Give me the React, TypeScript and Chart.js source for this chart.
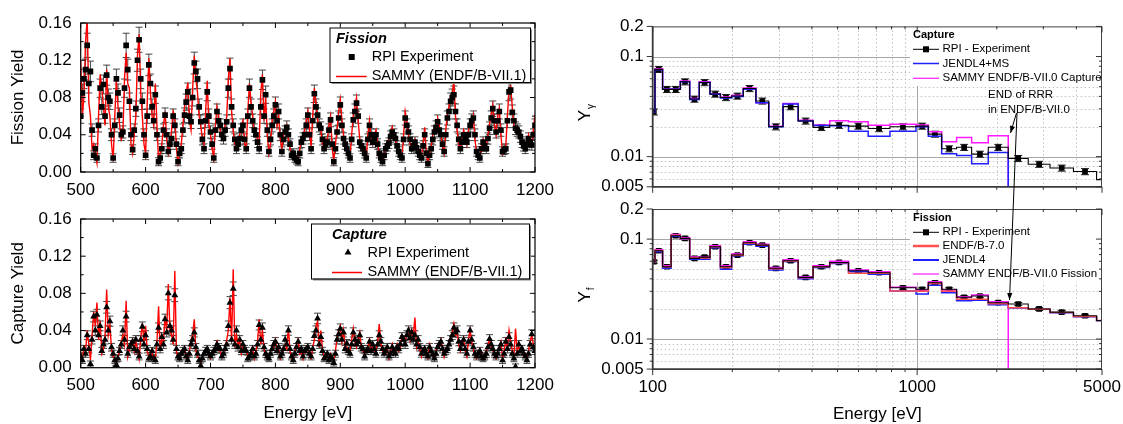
import React, { useEffect, useRef } from "react";
import { Chart, registerables } from "chart.js";
Chart.register(...registerables);

const FAMILY = '"Liberation Sans", Arial, Helvetica, sans-serif';
const font = (size: number, style = "") => `${style} ${size}px ${FAMILY}`.trim();

// ---------------- Left panels: resonance region 500-1200 eV ----------------
// values on the grid 500, 505, ... 1200 eV and on the half grid 502.5, 507.5, ... 1197.5 eV
const leftEnergyStart = 500;
const leftEnergyStep = 5;

const fissionExp = [
  0.060, 0.100, 0.136, 0.108, 0.018, 0.015, 0.090, 0.094, 0.104, 0.076,
  0.015, 0.100, 0.061, 0.043, 0.136, 0.076, 0.024, 0.068, 0.142, 0.076,
  0.018, 0.115, 0.070, 0.083, 0.011, 0.025, 0.061, 0.022, 0.036, 0.050,
  0.011, 0.025, 0.061, 0.086, 0.054, 0.117, 0.100, 0.054, 0.025, 0.086,
  0.043, 0.015, 0.065, 0.050, 0.036, 0.054, 0.111, 0.050, 0.025, 0.036,
  0.050, 0.025, 0.090, 0.055, 0.040, 0.025, 0.099, 0.083, 0.022, 0.050,
  0.072, 0.065, 0.022, 0.043, 0.040, 0.018, 0.015, 0.011, 0.032, 0.040,
  0.061, 0.025, 0.084, 0.061, 0.047, 0.025, 0.032, 0.056, 0.011, 0.043,
  0.072, 0.036, 0.025, 0.015, 0.056, 0.074, 0.032, 0.025, 0.015, 0.050,
  0.032, 0.040, 0.020, 0.011, 0.025, 0.031, 0.043, 0.036, 0.022, 0.015,
  0.058, 0.043, 0.025, 0.032, 0.022, 0.015, 0.040, 0.009, 0.025, 0.043,
  0.054, 0.040, 0.022, 0.058, 0.076, 0.083, 0.050, 0.025, 0.040, 0.032,
  0.050, 0.058, 0.022, 0.015, 0.032, 0.025, 0.047, 0.068, 0.043, 0.065,
  0.022, 0.025, 0.086, 0.064, 0.047, 0.043, 0.032, 0.025, 0.036, 0.029,
  0.050,
];
const fissionExpMid = [
  0.085, 0.110, 0.095, 0.045, 0.025, 0.050, 0.070, 0.060, 0.080, 0.040,
  0.050, 0.085, 0.040, 0.090, 0.110, 0.040, 0.045, 0.120, 0.100, 0.040,
  0.060, 0.095, 0.055, 0.040, 0.015, 0.045, 0.040, 0.030, 0.060, 0.030,
  0.020, 0.045, 0.075, 0.060, 0.080, 0.108, 0.070, 0.035, 0.055, 0.060,
  0.030, 0.045, 0.055, 0.040, 0.045, 0.090, 0.070, 0.035, 0.030, 0.045,
  0.035, 0.060, 0.070, 0.045, 0.032, 0.070, 0.060, 0.045, 0.035, 0.060,
  0.055, 0.040, 0.035, 0.048, 0.030, 0.020, 0.013, 0.020, 0.036, 0.050,
  0.040, 0.055, 0.070, 0.050, 0.035, 0.030, 0.045, 0.030, 0.025, 0.058,
  0.050, 0.030, 0.020, 0.035, 0.065, 0.060, 0.028, 0.020, 0.035, 0.040,
  0.036, 0.030, 0.015, 0.018, 0.028, 0.038, 0.040, 0.028, 0.018, 0.035,
  0.050, 0.035, 0.028, 0.026, 0.018, 0.028, 0.020, 0.018, 0.035, 0.048,
  0.045, 0.030, 0.040, 0.065, 0.080, 0.065, 0.035, 0.032, 0.036, 0.040,
  0.055, 0.040, 0.018, 0.025, 0.028, 0.036, 0.058, 0.055, 0.055, 0.045,
  0.024, 0.055, 0.088, 0.055, 0.045, 0.038, 0.028, 0.030, 0.032, 0.040,
];

const fissionSammy = [
  0.120, 0.080, 0.165, 0.060, 0.030, 0.010, 0.105, 0.070, 0.110, 0.060,
  0.012, 0.098, 0.050, 0.040, 0.128, 0.090, 0.020, 0.060, 0.148, 0.060,
  0.020, 0.122, 0.060, 0.095, 0.012, 0.030, 0.065, 0.020, 0.045, 0.060,
  0.010, 0.030, 0.070, 0.096, 0.045, 0.125, 0.085, 0.050, 0.030, 0.098,
  0.040, 0.015, 0.070, 0.045, 0.040, 0.060, 0.122, 0.045, 0.028, 0.040,
  0.055, 0.025, 0.095, 0.060, 0.045, 0.030, 0.105, 0.080, 0.020, 0.055,
  0.075, 0.060, 0.025, 0.045, 0.035, 0.020, 0.012, 0.015, 0.035, 0.045,
  0.065, 0.028, 0.090, 0.055, 0.045, 0.028, 0.035, 0.060, 0.012, 0.045,
  0.078, 0.040, 0.028, 0.016, 0.060, 0.080, 0.035, 0.028, 0.016, 0.055,
  0.030, 0.045, 0.018, 0.012, 0.028, 0.035, 0.048, 0.038, 0.020, 0.015,
  0.065, 0.040, 0.028, 0.035, 0.020, 0.016, 0.048, 0.010, 0.028, 0.048,
  0.058, 0.040, 0.020, 0.062, 0.080, 0.098, 0.045, 0.025, 0.045, 0.030,
  0.055, 0.060, 0.020, 0.016, 0.035, 0.028, 0.052, 0.072, 0.040, 0.068,
  0.020, 0.028, 0.090, 0.070, 0.048, 0.040, 0.030, 0.025, 0.040, 0.028,
  0.062,
];
const fissionSammyMid = [
  0.060, 0.140, 0.075, 0.025, 0.020, 0.060, 0.090, 0.050, 0.070, 0.030,
  0.060, 0.070, 0.035, 0.100, 0.095, 0.030, 0.040, 0.125, 0.085, 0.030,
  0.075, 0.085, 0.050, 0.050, 0.020, 0.050, 0.035, 0.028, 0.065, 0.025,
  0.020, 0.050, 0.085, 0.055, 0.090, 0.100, 0.060, 0.035, 0.065, 0.050,
  0.025, 0.050, 0.060, 0.035, 0.050, 0.100, 0.065, 0.030, 0.035, 0.050,
  0.030, 0.065, 0.075, 0.040, 0.035, 0.085, 0.055, 0.040, 0.030, 0.065,
  0.050, 0.035, 0.040, 0.050, 0.025, 0.018, 0.012, 0.025, 0.040, 0.055,
  0.045, 0.060, 0.075, 0.048, 0.030, 0.035, 0.050, 0.025, 0.030, 0.065,
  0.055, 0.025, 0.022, 0.040, 0.070, 0.055, 0.030, 0.022, 0.040, 0.035,
  0.040, 0.032, 0.012, 0.020, 0.032, 0.042, 0.036, 0.025, 0.020, 0.040,
  0.055, 0.030, 0.032, 0.024, 0.020, 0.030, 0.022, 0.020, 0.040, 0.045,
  0.050, 0.028, 0.045, 0.070, 0.085, 0.060, 0.030, 0.035, 0.040, 0.045,
  0.050, 0.035, 0.020, 0.028, 0.030, 0.040, 0.062, 0.050, 0.060, 0.040,
  0.025, 0.060, 0.092, 0.050, 0.042, 0.035, 0.030, 0.034, 0.030, 0.045,
];

const captureExp = [
  0.012, 0.020, 0.035, 0.004, 0.055, 0.057, 0.045, 0.025, 0.065, 0.050,
  0.015, 0.003, 0.018, 0.040, 0.055, 0.022, 0.028, 0.030, 0.012, 0.044,
  0.035, 0.010, 0.018, 0.008, 0.043, 0.033, 0.052, 0.080, 0.040, 0.078,
  0.012, 0.015, 0.020, 0.008, 0.025, 0.038, 0.015, 0.002, 0.015, 0.020,
  0.012, 0.018, 0.025, 0.020, 0.015, 0.025, 0.070, 0.085, 0.040, 0.030,
  0.025, 0.018, 0.012, 0.020, 0.015, 0.046, 0.043, 0.015, 0.010, 0.020,
  0.028, 0.022, 0.015, 0.030, 0.040, 0.012, 0.015, 0.028, 0.020, 0.018,
  0.022, 0.012, 0.034, 0.053, 0.033, 0.010, 0.015, 0.012, 0.005, 0.030,
  0.042, 0.038, 0.026, 0.015, 0.038, 0.025, 0.035, 0.020, 0.018, 0.028,
  0.025, 0.015, 0.035, 0.020, 0.018, 0.012, 0.022, 0.015, 0.020, 0.033,
  0.025, 0.040, 0.038, 0.035, 0.030, 0.015, 0.020, 0.012, 0.018, 0.010,
  0.022, 0.028, 0.015, 0.020, 0.030, 0.043, 0.040, 0.020, 0.030, 0.015,
  0.040, 0.022, 0.012, 0.018, 0.010, 0.015, 0.031, 0.020, 0.012, 0.020,
  0.008, 0.028, 0.033, 0.015, 0.001, 0.025, 0.020, 0.012, 0.015, 0.036,
  0.018,
];
const captureExpMid = [
  0.008, 0.015, 0.020, 0.030, 0.040, 0.035, 0.018, 0.030, 0.040, 0.022,
  0.008, 0.010, 0.025, 0.030, 0.015, 0.025, 0.020, 0.018, 0.030, 0.025,
  0.020, 0.012, 0.010, 0.025, 0.020, 0.025, 0.038, 0.045, 0.030, 0.020,
  0.010, 0.018, 0.012, 0.015, 0.030, 0.022, 0.008, 0.010, 0.018, 0.015,
  0.015, 0.020, 0.022, 0.012, 0.020, 0.045, 0.030, 0.025, 0.022, 0.018,
  0.020, 0.010, 0.015, 0.012, 0.025, 0.030, 0.022, 0.012, 0.015, 0.025,
  0.018, 0.012, 0.020, 0.025, 0.020, 0.008, 0.022, 0.018, 0.012, 0.020,
  0.015, 0.020, 0.040, 0.025, 0.018, 0.012, 0.008, 0.010, 0.015, 0.036,
  0.030, 0.020, 0.018, 0.025, 0.030, 0.028, 0.022, 0.012, 0.020, 0.018,
  0.020, 0.025, 0.028, 0.015, 0.022, 0.015, 0.018, 0.022, 0.025, 0.030,
  0.035, 0.032, 0.030, 0.025, 0.022, 0.018, 0.015, 0.022, 0.014, 0.015,
  0.025, 0.020, 0.018, 0.025, 0.035, 0.038, 0.028, 0.025, 0.020, 0.028,
  0.030, 0.015, 0.015, 0.012, 0.012, 0.022, 0.025, 0.015, 0.015, 0.025,
  0.015, 0.020, 0.025, 0.010, 0.015, 0.018, 0.015, 0.008, 0.025, 0.022,
];

const captureSammy = [
  0.015, 0.022, 0.040, 0.008, 0.060, 0.070, 0.050, 0.020, 0.084, 0.045,
  0.012, 0.006, 0.020, 0.035, 0.072, 0.020, 0.030, 0.028, 0.010, 0.048,
  0.045, 0.012, 0.015, 0.010, 0.066, 0.030, 0.055, 0.090, 0.035, 0.104,
  0.010, 0.018, 0.022, 0.010, 0.030, 0.052, 0.012, 0.005, 0.018, 0.022,
  0.010, 0.020, 0.028, 0.018, 0.015, 0.030, 0.075, 0.106, 0.035, 0.028,
  0.022, 0.020, 0.010, 0.022, 0.018, 0.052, 0.040, 0.012, 0.012, 0.022,
  0.030, 0.020, 0.015, 0.025, 0.043, 0.010, 0.018, 0.030, 0.018, 0.020,
  0.020, 0.010, 0.030, 0.050, 0.040, 0.012, 0.012, 0.015, 0.008, 0.032,
  0.045, 0.040, 0.022, 0.018, 0.042, 0.022, 0.038, 0.018, 0.020, 0.030,
  0.022, 0.018, 0.047, 0.018, 0.020, 0.010, 0.025, 0.018, 0.018, 0.035,
  0.028, 0.042, 0.040, 0.054, 0.028, 0.012, 0.022, 0.010, 0.020, 0.012,
  0.025, 0.030, 0.012, 0.022, 0.032, 0.047, 0.038, 0.018, 0.032, 0.012,
  0.040, 0.020, 0.010, 0.020, 0.012, 0.018, 0.030, 0.022, 0.010, 0.022,
  0.010, 0.030, 0.040, 0.018, 0.042, 0.022, 0.018, 0.015, 0.018, 0.035,
  0.020,
];
const captureSammyMid = [
  0.010, 0.018, 0.025, 0.035, 0.045, 0.030, 0.015, 0.035, 0.035, 0.020,
  0.010, 0.012, 0.028, 0.025, 0.012, 0.028, 0.018, 0.020, 0.032, 0.028,
  0.018, 0.010, 0.012, 0.028, 0.018, 0.028, 0.040, 0.040, 0.025, 0.018,
  0.012, 0.020, 0.010, 0.018, 0.035, 0.018, 0.010, 0.012, 0.020, 0.012,
  0.018, 0.022, 0.020, 0.012, 0.022, 0.040, 0.028, 0.022, 0.025, 0.015,
  0.018, 0.012, 0.018, 0.010, 0.028, 0.025, 0.020, 0.010, 0.018, 0.022,
  0.020, 0.010, 0.022, 0.020, 0.018, 0.010, 0.025, 0.015, 0.010, 0.022,
  0.012, 0.022, 0.045, 0.022, 0.020, 0.010, 0.010, 0.012, 0.018, 0.040,
  0.028, 0.022, 0.020, 0.030, 0.028, 0.030, 0.020, 0.015, 0.022, 0.020,
  0.018, 0.028, 0.025, 0.018, 0.020, 0.018, 0.015, 0.025, 0.022, 0.032,
  0.038, 0.030, 0.035, 0.022, 0.020, 0.020, 0.012, 0.025, 0.012, 0.018,
  0.022, 0.022, 0.020, 0.028, 0.038, 0.035, 0.025, 0.028, 0.018, 0.030,
  0.028, 0.012, 0.018, 0.010, 0.015, 0.025, 0.022, 0.012, 0.018, 0.028,
  0.018, 0.022, 0.028, 0.012, 0.018, 0.020, 0.012, 0.010, 0.028, 0.025,
];

// uncertainty model of the measured yields (absolute floor + relative part)
const fissionErrAbs = 0.0035;
const fissionErrRel = 0.07;
const captureErrAbs = 0.003;
const captureErrRel = 0.05;

const leftXMin = 500;
const leftXMax = 1200;
const leftYMin = 0;
const leftYMax = 0.16;
const leftXTicks = [500, 600, 700, 800, 900, 1000, 1100, 1200];
const leftXMinor = [550, 650, 750, 850, 950, 1050, 1150];
const leftYTicks = [0, 0.04, 0.08, 0.12, 0.16];
const leftYTickLabels = ["0.00", "0.04", "0.08", "0.12", "0.16"];
const leftYMinor = [0.02, 0.06, 0.1, 0.14];

// ---------------- Right panels: averaged yields 100-5000 eV ----------------
const binEdges = [
  100, 102, 109, 117.4, 127.2, 138, 150, 164.7, 180.3, 198.8, 220, 245.6, 274.6, 311, 355, 404,
  467, 550, 653, 789, 990, 1102, 1238, 1410, 1607, 1857, 2210, 2630, 3180, 3900, 4770, 5100,
];

const capExp = [
  0.028, 0.0745, 0.047, 0.047, 0.056, 0.0376, 0.055, 0.0422, 0.039, 0.0403, 0.048, 0.036, 0.0199,
  0.0316, 0.0227, 0.0196, 0.0206, 0.0202, 0.0191, 0.0199, 0.0202, 0.0168, 0.012, 0.0124, 0.0106,
  0.0124, 0.0096, 0.0084, 0.0077, 0.0071, 0.0059,
];
const capJendl = [
  0.028, 0.074, 0.047, 0.047, 0.056, 0.0372, 0.055, 0.042, 0.0385, 0.04, 0.047, 0.0345, 0.0199,
  0.0335, 0.0227, 0.0205, 0.0204, 0.0179, 0.016, 0.0179, 0.0199, 0.016, 0.0107, 0.0103, 0.0085,
  0.011,
];
const capSammy = [
  0.028, 0.0755, 0.0475, 0.0475, 0.057, 0.038, 0.056, 0.0425, 0.0395, 0.041, 0.0485, 0.0345,
  0.0201, 0.0339, 0.0231, 0.0207, 0.0229, 0.0223, 0.0206, 0.0211, 0.0207, 0.0177, 0.0141, 0.0155,
  0.0138, 0.0162,
];

const fisExp = [
  0.0593, 0.0764, 0.0529, 0.108, 0.1016, 0.0641, 0.066, 0.0838, 0.0529, 0.0692, 0.0918, 0.0871,
  0.051, 0.0607, 0.0414, 0.0529, 0.0584, 0.0482, 0.046, 0.0326, 0.0315, 0.0366, 0.0315, 0.0262,
  0.0269, 0.0231, 0.0224, 0.02, 0.0186, 0.0171, 0.0153,
];
const fisEndf = [
  0.0593, 0.077, 0.053, 0.109, 0.101, 0.0645, 0.0645, 0.084, 0.052, 0.069, 0.091, 0.087, 0.0505,
  0.0605, 0.041, 0.053, 0.058, 0.0454, 0.0455, 0.0302, 0.03, 0.036, 0.03, 0.025, 0.025, 0.0225,
  0.0205, 0.0198, 0.0184, 0.0168, 0.0153,
];
const fisJendl = [
  0.0593, 0.0745, 0.051, 0.107, 0.0995, 0.063, 0.063, 0.082, 0.05, 0.068, 0.089, 0.085, 0.049,
  0.0595, 0.04, 0.052, 0.057, 0.047, 0.0445, 0.0302, 0.0282, 0.0345, 0.029, 0.0242, 0.0245, 0.022,
  0.0204, 0.0198, 0.0183, 0.0167, 0.0152,
];
const fisSammy = [
  0.0593, 0.078, 0.054, 0.111, 0.103, 0.066, 0.066, 0.086, 0.054, 0.071, 0.094, 0.089, 0.052,
  0.062, 0.042, 0.054, 0.06, 0.049, 0.047, 0.033, 0.031, 0.0375, 0.031, 0.0265, 0.0275, 0.0236,
];

const capErrRel = 0.07;
const fisErrRel = 0.035;
const belowAxis = 0.001; // evaluations end (drop) at the end of the resolved range

const rightXMin = 100;
const rightXMax = 5000;
const rightYMin = 0.005;
const rightYMax = 0.2;
const rightXTicks = [100, 1000, 5000];
const rightXTickLabels = ["100", "1000", "5000"];
const rightXMinor = [200, 300, 400, 500, 600, 700, 800, 900, 2000, 3000, 4000];
const rightXMajorGrid = [1000];
const rightYTicks = [0.005, 0.01, 0.1, 0.2];
const rightYTickLabels = ["0.005", "0.01", "0.1", "0.2"];
const rightYMinor = [0.006, 0.007, 0.008, 0.009, 0.02, 0.03, 0.04, 0.05, 0.06, 0.07, 0.08, 0.09];
const rightYMajorGrid = [0.01, 0.1];

const BLUE = "#2020ff";
const MAGENTA = "#ff1aff";
const RED_ENDF = "#ff5050";

// ---------------- helpers ----------------
function mergeGrid(base: number[], mid: number[]) {
  const out: { x: number; y: number }[] = [];
  base.forEach((v, i) => {
    out.push({ x: leftEnergyStart + i * leftEnergyStep, y: v });
    if (i < mid.length) out.push({ x: leftEnergyStart + (i + 0.5) * leftEnergyStep, y: mid[i] });
  });
  return out;
}

function stepData(values: number[], drop?: boolean) {
  const pts = values.map((v, i) => ({ x: binEdges[i], y: v }));
  pts.push({ x: binEdges[values.length], y: values[values.length - 1] });
  if (drop) pts.push({ x: binEdges[values.length], y: belowAxis });
  return pts;
}

function binPoints(values: number[]) {
  const out: { x: number; y: number }[] = [];
  values.forEach((v, i) => {
    if (binEdges[i + 1] <= rightXMax) out.push({ x: Math.sqrt(binEdges[i] * binEdges[i + 1]), y: v });
  });
  return out;
}

function clipArea(ctx: CanvasRenderingContext2D, a: any) {
  ctx.beginPath();
  ctx.rect(a.left, a.top, a.right - a.left, a.bottom - a.top);
  ctx.clip();
}

// ---------------- left deco plugin ----------------
type LeftCfg = {
  offY: number;
  pts: { x: number; y: number }[];
  errAbs: number;
  errRel: number;
  yTitle: string;
  xTitle: boolean;
  marker: "rect" | "triangle";
  box: [number, number, number, number];
  legendTitle: string;
  titleX: number;
  titleY: number;
  markerX: number;
  row1Y: number;
  row2Y: number;
  lineX1: number;
  lineX2: number;
  textX: number;
};

function leftDeco(cfg: LeftCfg) {
  return {
    id: "leftDeco",
    beforeDatasetsDraw(chart: any) {
      const { ctx, chartArea: a, scales } = chart;
      const xs = scales.x;
      const ys = scales.y;
      ctx.save();
      clipArea(ctx, a);
      ctx.strokeStyle = "#303030";
      ctx.lineWidth = 0.9;
      ctx.beginPath();
      cfg.pts.forEach((p) => {
        const err = cfg.errAbs + cfg.errRel * p.y;
        const px = xs.getPixelForValue(p.x);
        const lo = ys.getPixelForValue(p.y - err);
        const hi = ys.getPixelForValue(p.y + err);
        ctx.moveTo(px, lo);
        ctx.lineTo(px, hi);
        ctx.moveTo(px - 3.5, lo);
        ctx.lineTo(px + 3.5, lo);
        ctx.moveTo(px - 3.5, hi);
        ctx.lineTo(px + 3.5, hi);
      });
      ctx.stroke();
      ctx.restore();
    },
    afterDraw(chart: any) {
      const { ctx, chartArea: a, scales } = chart;
      const xs = scales.x;
      const ys = scales.y;
      const oy = cfg.offY;
      ctx.save();
      ctx.strokeStyle = "#000";
      ctx.lineWidth = 1.2;
      ctx.strokeRect(a.left, a.top, a.right - a.left, a.bottom - a.top);
      ctx.lineWidth = 1;
      ctx.beginPath();
      const xt = (v: number, len: number) => {
        const px = xs.getPixelForValue(v);
        ctx.moveTo(px, a.bottom);
        ctx.lineTo(px, a.bottom - len);
        ctx.moveTo(px, a.top);
        ctx.lineTo(px, a.top + len);
      };
      const yt = (v: number, len: number) => {
        const py = ys.getPixelForValue(v);
        ctx.moveTo(a.left, py);
        ctx.lineTo(a.left + len, py);
        ctx.moveTo(a.right, py);
        ctx.lineTo(a.right - len, py);
      };
      leftXTicks.forEach((v) => xt(v, 5));
      leftXMinor.forEach((v) => xt(v, 3));
      leftYTicks.forEach((v) => yt(v, 5));
      leftYMinor.forEach((v) => yt(v, 3));
      ctx.stroke();

      ctx.fillStyle = "#000";
      ctx.font = font(17);
      ctx.textBaseline = "middle";
      ctx.textAlign = "center";
      leftXTicks.forEach((v) => ctx.fillText(String(v), xs.getPixelForValue(v), a.bottom + 18));
      ctx.textAlign = "right";
      leftYTicks.forEach((v, i) => ctx.fillText(leftYTickLabels[i], a.left - 9, ys.getPixelForValue(v)));

      ctx.save();
      ctx.translate(18, (a.top + a.bottom) / 2);
      ctx.rotate(-Math.PI / 2);
      ctx.textAlign = "center";
      ctx.fillText(cfg.yTitle, 0, 0);
      ctx.restore();
      if (cfg.xTitle) {
        ctx.textAlign = "center";
        ctx.fillText("Energy [eV]", (a.left + a.right) / 2, a.bottom + 46);
      }

      const [bx1, by1, bx2, by2] = cfg.box;
      ctx.fillStyle = "#8a8a8a";
      ctx.fillRect(bx1 + 2, by1 - oy + 2, bx2 - bx1, by2 - by1);
      ctx.fillStyle = "#fff";
      ctx.fillRect(bx1, by1 - oy, bx2 - bx1, by2 - by1);
      ctx.strokeStyle = "#000";
      ctx.lineWidth = 1;
      ctx.strokeRect(bx1 + 0.5, by1 - oy + 0.5, bx2 - bx1, by2 - by1);

      ctx.fillStyle = "#000";
      ctx.textAlign = "left";
      ctx.font = font(14.5, "italic bold");
      ctx.fillText(cfg.legendTitle, cfg.titleX, cfg.titleY - oy);
      ctx.font = font(14.5);
      const mx = cfg.markerX;
      const my = cfg.row1Y - oy;
      ctx.beginPath();
      if (cfg.marker === "rect") {
        ctx.rect(mx - 3, my - 3, 6, 6);
      } else {
        const r = 4;
        ctx.moveTo(mx, my - r);
        ctx.lineTo(mx + r * 0.866, my + r * 0.5);
        ctx.lineTo(mx - r * 0.866, my + r * 0.5);
        ctx.closePath();
      }
      ctx.fill();
      ctx.fillText("RPI Experiment", cfg.textX, my);
      ctx.strokeStyle = "#ff0000";
      ctx.lineWidth = 1.5;
      ctx.beginPath();
      const ly = Math.round(cfg.row2Y - oy) + 0.5;
      ctx.moveTo(cfg.lineX1, ly);
      ctx.lineTo(cfg.lineX2, ly);
      ctx.stroke();
      ctx.fillText("SAMMY (ENDF/B-VII.1)", cfg.textX, cfg.row2Y - oy);
      ctx.restore();
    },
  };
}

function leftConfig(expPts: any[], samPts: any[], marker: "rect" | "triangle", padding: any, deco: any) {
  return {
    type: "line" as const,
    data: {
      datasets: [
        {
          data: expPts,
          showLine: false,
          pointStyle: marker,
          pointRadius: 4,
          pointBackgroundColor: "#000",
          pointBorderColor: "#000",
          pointBorderWidth: 0,
          borderColor: "#000",
        },
        {
          data: samPts,
          borderColor: "#ff0000",
          borderWidth: 1.4,
          pointRadius: 0,
          tension: 0,
          fill: false,
        },
      ],
    },
    options: {
      animation: false as const,
      responsive: false,
      events: [],
      layout: { padding },
      plugins: { legend: { display: false }, tooltip: { enabled: false } },
      scales: {
        x: { type: "linear" as const, min: leftXMin, max: leftXMax, display: false },
        y: { type: "linear" as const, min: leftYMin, max: leftYMax, display: false },
      },
    },
    plugins: [deco],
  };
}

// ---------------- right deco plugin ----------------
type Row = { label: string; color: string; width: number; marker?: boolean };
type RightCfg = {
  offX: number;
  offY: number;
  sub: string;
  legendTitle: string;
  titleY: number;
  rows: Row[];
  rowYs: number[];
  legendBottom: number;
  xLabels: boolean;
  xTitle: boolean;
  annotation: boolean;
  pointsIndex: number;
  exp: number[];
  errRel: number;
};

function rightDeco(cfg: RightCfg) {
  const legendX = 913;
  const sampleEnd = 939;
  const textX = 942.5;
  return {
    id: "rightDeco",
    beforeDatasetsDraw(chart: any) {
      const { ctx, chartArea: a, scales } = chart;
      const xs = scales.x;
      const ys = scales.y;
      ctx.save();
      clipArea(ctx, a);
      ctx.lineWidth = 1;
      ctx.strokeStyle = "#c2c2c2";
      ctx.setLineDash([1.5, 2.5]);
      ctx.beginPath();
      rightYMinor.forEach((v) => {
        const py = Math.round(ys.getPixelForValue(v)) + 0.5;
        ctx.moveTo(a.left, py);
        ctx.lineTo(a.right, py);
      });
      rightXMinor.forEach((v) => {
        const px = Math.round(xs.getPixelForValue(v)) + 0.5;
        ctx.moveTo(px, a.top);
        ctx.lineTo(px, a.bottom);
      });
      ctx.stroke();
      ctx.setLineDash([]);
      ctx.strokeStyle = "#a6a6a6";
      ctx.beginPath();
      rightYMajorGrid.forEach((v) => {
        const py = Math.round(ys.getPixelForValue(v)) + 0.5;
        ctx.moveTo(a.left, py);
        ctx.lineTo(a.right, py);
      });
      rightXMajorGrid.forEach((v) => {
        const px = Math.round(xs.getPixelForValue(v)) + 0.5;
        ctx.moveTo(px, a.top);
        ctx.lineTo(px, a.bottom);
      });
      ctx.stroke();
      ctx.fillStyle = "#fff";
      const lx = legendX - 3 - cfg.offX;
      ctx.fillRect(lx, a.top + 1, a.right - lx - 1, cfg.legendBottom - cfg.offY - a.top);
      ctx.restore();
    },
    beforeDatasetDraw(chart: any, args: any) {
      if (args.index !== cfg.pointsIndex) return;
      const { ctx, chartArea: a, scales } = chart;
      const xs = scales.x;
      const ys = scales.y;
      ctx.save();
      clipArea(ctx, a);
      ctx.strokeStyle = "#222";
      ctx.lineWidth = 1;
      ctx.beginPath();
      cfg.exp.forEach((v, i) => {
        if (binEdges[i + 1] > rightXMax) return;
        const px = xs.getPixelForValue(Math.sqrt(binEdges[i] * binEdges[i + 1]));
        const lo = ys.getPixelForValue(v * (1 - cfg.errRel));
        const hi = ys.getPixelForValue(v * (1 + cfg.errRel));
        ctx.moveTo(px, lo);
        ctx.lineTo(px, hi);
        ctx.moveTo(px - 4, lo);
        ctx.lineTo(px + 4, lo);
        ctx.moveTo(px - 4, hi);
        ctx.lineTo(px + 4, hi);
      });
      ctx.stroke();
      ctx.restore();
    },
    afterDraw(chart: any) {
      const { ctx, chartArea: a, scales } = chart;
      const xs = scales.x;
      const ys = scales.y;
      const ox = cfg.offX;
      const oy = cfg.offY;
      ctx.save();
      ctx.strokeStyle = "#444";
      ctx.lineWidth = 1;
      ctx.beginPath();
      ctx.moveTo(a.left, a.top + 0.5);
      ctx.lineTo(a.right, a.top + 0.5);
      ctx.moveTo(a.right - 0.5, a.top);
      ctx.lineTo(a.right - 0.5, a.bottom);
      ctx.stroke();
      ctx.strokeStyle = "#3a3a3a";
      ctx.lineWidth = 1.8;
      ctx.beginPath();
      ctx.moveTo(a.left, a.top);
      ctx.lineTo(a.left, a.bottom);
      ctx.lineTo(a.right, a.bottom);
      ctx.stroke();
      ctx.lineWidth = 1;
      ctx.strokeStyle = "#333";
      ctx.beginPath();
      const xt = (v: number, len: number) => {
        const px = xs.getPixelForValue(v);
        ctx.moveTo(px, a.bottom);
        ctx.lineTo(px, a.bottom + len);
        ctx.moveTo(px, a.top);
        ctx.lineTo(px, a.top + len);
      };
      const yt = (v: number, len: number) => {
        const py = ys.getPixelForValue(v);
        ctx.moveTo(a.left, py);
        ctx.lineTo(a.left - len, py);
        ctx.moveTo(a.right, py);
        ctx.lineTo(a.right - len, py);
      };
      rightXTicks.forEach((v) => xt(v, 6));
      rightXMinor.forEach((v) => xt(v, 3));
      rightYTicks.forEach((v) => yt(v, 6));
      rightYMinor.forEach((v) => yt(v, 3));
      ctx.stroke();

      ctx.fillStyle = "#000";
      ctx.font = font(17);
      ctx.textBaseline = "middle";
      if (cfg.xLabels) {
        ctx.textAlign = "center";
        rightXTicks.forEach((v, i) => ctx.fillText(rightXTickLabels[i], xs.getPixelForValue(v), a.bottom + 18));
      }
      ctx.textAlign = "right";
      rightYTicks.forEach((v, i) => ctx.fillText(rightYTickLabels[i], a.left - 9, ys.getPixelForValue(v)));

      ctx.save();
      ctx.translate(a.left - 67, (a.top + a.bottom) / 2 + 6);
      ctx.rotate(-Math.PI / 2);
      ctx.textAlign = "left";
      ctx.font = font(17);
      const wY = ctx.measureText("Y").width;
      ctx.font = font(10);
      const wS = ctx.measureText(cfg.sub).width;
      const start = -(wY + wS + 1) / 2;
      ctx.font = font(17);
      ctx.fillText("Y", start, 0);
      ctx.font = font(10);
      ctx.fillText(cfg.sub, start + wY + 1, 6);
      ctx.restore();

      if (cfg.xTitle) {
        ctx.font = font(17);
        ctx.textAlign = "center";
        ctx.fillText("Energy [eV]", (a.left + a.right) / 2, a.bottom + 45);
      }

      ctx.textAlign = "left";
      ctx.font = font(11, "bold");
      ctx.fillText(cfg.legendTitle, legendX - ox, cfg.titleY - oy);
      ctx.font = font(11.5);
      cfg.rows.forEach((row, i) => {
        const y = cfg.rowYs[i] - oy;
        ctx.strokeStyle = row.color;
        ctx.lineWidth = row.width;
        ctx.beginPath();
        ctx.moveTo(legendX - ox, y);
        ctx.lineTo(sampleEnd - ox, y);
        ctx.stroke();
        if (row.marker) {
          ctx.fillStyle = "#000";
          ctx.fillRect((legendX + sampleEnd) / 2 - ox - 3, y - 3, 6, 6);
        }
        ctx.fillStyle = "#000";
        ctx.fillText(row.label, textX - ox, y);
      });

      if (cfg.annotation) {
        ctx.font = font(11.5);
        ctx.fillText("END of RRR", 988 - ox, 95 - oy);
        ctx.fillText("in ENDF/B-VII.0", 988 - ox, 109.5 - oy);
      }
      ctx.restore();
    },
  };
}

function rightConfig(lines: { data: any[]; color: string; width: number }[], points: any[], padding: any, deco: any) {
  return {
    type: "line" as const,
    data: {
      datasets: [
        ...lines.map((l) => ({
          data: l.data,
          borderColor: l.color,
          borderWidth: l.width,
          stepped: "before" as const,
          pointRadius: 0,
          fill: false,
        })),
        {
          data: points,
          showLine: false,
          pointStyle: "rect" as const,
          pointRadius: 4,
          pointBackgroundColor: "#000",
          pointBorderColor: "#000",
          pointBorderWidth: 0,
          borderColor: "#000",
        },
      ],
    },
    options: {
      animation: false as const,
      responsive: false,
      events: [],
      layout: { padding },
      plugins: { legend: { display: false }, tooltip: { enabled: false } },
      scales: {
        x: { type: "logarithmic" as const, min: rightXMin, max: rightXMax, display: false },
        y: { type: "logarithmic" as const, min: rightYMin, max: rightYMax, display: false },
      },
    },
    plugins: [deco],
  };
}

function arrowHead(x1: number, y1: number, x2: number, y2: number, len = 7, half = 2.6) {
  const dx = x2 - x1;
  const dy = y2 - y1;
  const L = Math.hypot(dx, dy);
  const ux = dx / L;
  const uy = dy / L;
  const bx = x2 - ux * len;
  const by = y2 - uy * len;
  return `${x2},${y2} ${bx - uy * half},${by + ux * half} ${bx + uy * half},${by - ux * half}`;
}

// annotation arrows (page coordinates of the "END of RRR" pointer)
const arrowShort = { x1: 1016.5, y1: 113, x2: 1010.5, y2: 133 };
const arrowLong = { x1: 1017, y1: 113, x2: 1009.5, y2: 300 };

export default function App() {
  const c1 = useRef<HTMLCanvasElement>(null);
  const c2 = useRef<HTMLCanvasElement>(null);
  const c3 = useRef<HTMLCanvasElement>(null);
  const c4 = useRef<HTMLCanvasElement>(null);

  useEffect(() => {
    const fisPts = mergeGrid(fissionExp, fissionExpMid);
    const fisLine = mergeGrid(fissionSammy, fissionSammyMid);
    const capPts = mergeGrid(captureExp, captureExpMid);
    const capLine = mergeGrid(captureSammy, captureSammyMid);
    const charts: Chart[] = [];
    charts.push(
      new Chart(
        c1.current!,
        leftConfig(
          fisPts,
          fisLine,
          "rect",
          { left: 80.7, right: 25, top: 23, bottom: 28 },
          leftDeco({
            offY: 0,
            pts: fisPts,
            errAbs: fissionErrAbs,
            errRel: fissionErrRel,
            yTitle: "Fission Yield",
            xTitle: false,
            marker: "rect",
            box: [329.5, 27.5, 530, 82],
            legendTitle: "Fission",
            titleX: 336,
            titleY: 38.5,
            markerX: 351.7,
            row1Y: 57,
            row2Y: 75.5,
            lineX1: 336,
            lineX2: 366.7,
            textX: 371.7,
          })
        ) as any
      )
    );
    charts.push(
      new Chart(
        c2.current!,
        leftConfig(
          capPts,
          capLine,
          "triangle",
          { left: 80.7, right: 25, top: 19, bottom: 56.3 },
          leftDeco({
            offY: 200,
            pts: capPts,
            errAbs: captureErrAbs,
            errRel: captureErrRel,
            yTitle: "Capture Yield",
            xTitle: true,
            marker: "triangle",
            box: [311, 223.5, 529, 278.5],
            legendTitle: "Capture",
            titleX: 332,
            titleY: 235,
            markerX: 348,
            row1Y: 252.5,
            row2Y: 271.5,
            lineX1: 332,
            lineX2: 362,
            textX: 367.6,
          })
        ) as any
      )
    );
    charts.push(
      new Chart(
        c3.current!,
        rightConfig(
          [
            { data: stepData(capExp), color: "#000", width: 1.1 },
            { data: stepData(capJendl, true), color: BLUE, width: 1.5 },
            { data: stepData(capSammy, true), color: MAGENTA, width: 1.5 },
          ],
          binPoints(capExp),
          { left: 92.7, right: 21, top: 26.4, bottom: 13.2 },
          rightDeco({
            offX: 560,
            offY: 0,
            sub: "γ",
            legendTitle: "Capture",
            titleY: 35,
            rows: [
              { label: "RPI - Experiment", color: "#000", width: 1, marker: true },
              { label: "JENDL4+MS", color: BLUE, width: 1.5 },
              { label: "SAMMY ENDF/B-VII.0 Capture", color: MAGENTA, width: 1.2 },
            ],
            rowYs: [49.3, 63.5, 78.3],
            legendBottom: 85,
            xLabels: false,
            xTitle: false,
            annotation: true,
            pointsIndex: 3,
            exp: capExp,
            errRel: capErrRel,
          })
        ) as any
      )
    );
    charts.push(
      new Chart(
        c4.current!,
        rightConfig(
          [
            { data: stepData(fisExp), color: "#000", width: 1.1 },
            { data: stepData(fisEndf), color: RED_ENDF, width: 1.5 },
            { data: stepData(fisJendl), color: BLUE, width: 1.5 },
            { data: stepData(fisSammy, true), color: MAGENTA, width: 1.5 },
          ],
          binPoints(fisExp),
          { left: 92.7, right: 21, top: 9, bottom: 54.9 },
          rightDeco({
            offX: 560,
            offY: 200,
            sub: "f",
            legendTitle: "Fission",
            titleY: 218.3,
            rows: [
              { label: "RPI - Experiment", color: "#000", width: 1, marker: true },
              { label: "ENDF/B-7.0", color: RED_ENDF, width: 2.5 },
              { label: "JENDL4", color: BLUE, width: 2 },
              { label: "SAMMY ENDF/B-VII.0 Fission", color: MAGENTA, width: 1.2 },
            ],
            rowYs: [232.3, 246, 260, 274],
            legendBottom: 281,
            xLabels: true,
            xTitle: true,
            annotation: false,
            pointsIndex: 4,
            exp: fisExp,
            errRel: fisErrRel,
          })
        ) as any
      )
    );
    return () => charts.forEach((c) => c.destroy());
  }, []);

  const abs = (left: number, top: number): React.CSSProperties => ({ position: "absolute", left, top });

  return (
    <div style={{ position: "absolute", left: 0, top: 0, width: 1123, height: 424, background: "#fff", overflow: "hidden" }}>
      <canvas ref={c1} width={560} height={200} style={abs(0, 0)} />
      <canvas ref={c2} width={560} height={224} style={abs(0, 200)} />
      <canvas ref={c3} width={563} height={200} style={abs(560, 0)} />
      <canvas ref={c4} width={563} height={224} style={abs(560, 200)} />
      <svg width={1123} height={424} style={{ position: "absolute", left: 0, top: 0, pointerEvents: "none" }}>
        <line x1={arrowShort.x1} y1={arrowShort.y1} x2={arrowShort.x2} y2={arrowShort.y2} stroke="#000" strokeWidth={1} />
        <polygon points={arrowHead(arrowShort.x1, arrowShort.y1, arrowShort.x2, arrowShort.y2)} fill="#000" />
        <line x1={arrowLong.x1} y1={arrowLong.y1} x2={arrowLong.x2} y2={arrowLong.y2} stroke="#000" strokeWidth={1} />
        <polygon points={arrowHead(arrowLong.x1, arrowLong.y1, arrowLong.x2, arrowLong.y2)} fill="#000" />
      </svg>
    </div>
  );
}
